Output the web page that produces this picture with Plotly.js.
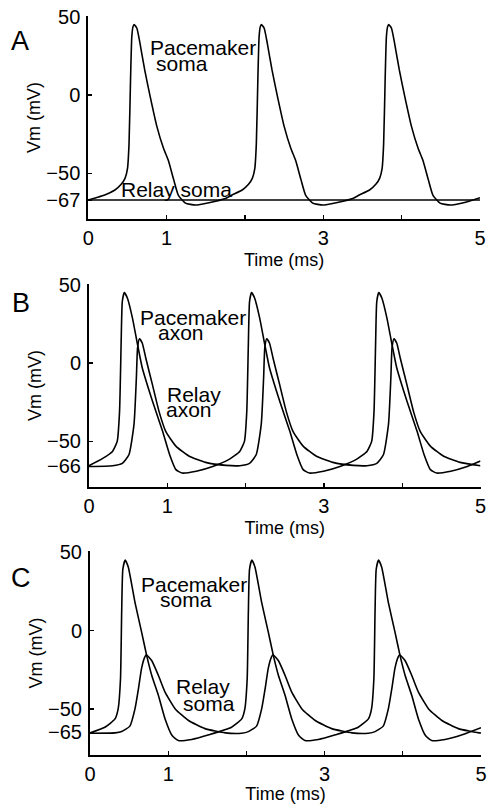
<!DOCTYPE html>
<html>
<head>
<meta charset="utf-8">
<script src="https://cdn.plot.ly/plotly-3.0.1.min.js"></script>
<style>
  html, body { margin: 0; padding: 0; background: #fff; }
  #chart { width: 487px; height: 804px; }
</style>
</head>
<body>
<div id="chart"></div>
<script>
// ---------------- data ----------------
// Panel A: pacemaker soma and relay soma
const tPaceA = [0, 0.1, 0.21, 0.34, 0.42, 0.47, 0.50, 0.52, 0.54, 0.555, 0.57, 0.585, 0.62, 0.66, 0.72, 0.79, 0.875, 0.96, 1.02, 1.09, 1.15, 1.24, 1.37, 1.54, 1.75,
  1.835, 1.965, 2.045, 2.095, 2.125, 2.145, 2.165, 2.18, 2.195, 2.21, 2.245, 2.285, 2.345, 2.415, 2.5, 2.585, 2.645, 2.715, 2.775, 2.865, 2.995, 3.165, 3.375,
  3.46, 3.59, 3.67, 3.72, 3.75, 3.77, 3.79, 3.805, 3.82, 3.835, 3.87, 3.91, 3.97, 4.04, 4.125, 4.21, 4.27, 4.34, 4.40, 4.49, 4.62, 4.79, 5.0];
const vPaceA = [-67, -65.5, -63.8, -60.6, -57, -53, -47, -31, 11.7, 37, 43.5, 45, 42.6, 33, 16, -1, -20, -34, -41.5, -54, -64, -69, -70.2, -68.7, -66,
  -63.8, -60.6, -57, -53, -47, -31, 11.7, 37, 43.5, 45, 42.6, 33, 16, -1, -20, -34, -41.5, -54, -64, -69, -70.2, -68.7, -66,
  -63.8, -60.6, -57, -53, -47, -31, 11.7, 37, 43.5, 45, 42.6, 33, 16, -1, -20, -34, -41.5, -54, -64, -69, -70.2, -68.7, -65.5];
const tRelayA = [0, 5];
const vRelayA = [-67, -67];

// Panel B: pacemaker axon and relay axon
const tPaceB = [0, 0.17, 0.30, 0.36, 0.39, 0.41, 0.425, 0.45, 0.49, 0.555, 0.62, 0.68, 0.77, 0.855, 0.94, 1.03, 1.11, 1.19, 1.37, 1.58, 1.795,
  1.925, 1.985, 2.015, 2.035, 2.05, 2.075, 2.115, 2.18, 2.245, 2.305, 2.395, 2.48, 2.565, 2.655, 2.735, 2.815, 2.995, 3.205, 3.42,
  3.55, 3.61, 3.64, 3.66, 3.675, 3.70, 3.74, 3.805, 3.87, 3.93, 4.02, 4.105, 4.19, 4.28, 4.36, 4.44, 4.62, 4.83, 5.0];
const vPaceB = [-65.5, -61, -56.4, -50, -31, 11.7, 39, 45, 41.5, 28.7, 11.7, -3, -18, -31, -43.6, -58.5, -68, -70.2, -69, -66, -61.3,
  -56.4, -50, -31, 11.7, 39, 45, 41.5, 28.7, 11.7, -3, -18, -31, -43.6, -58.5, -68, -70.2, -69, -66, -61.3,
  -56.4, -50, -31, 11.7, 39, 45, 41.5, 28.7, 11.7, -3, -18, -31, -43.6, -58.5, -68, -70.2, -69, -66, -62.5];
const tRelayB = [0, 0.3, 0.425, 0.51, 0.575, 0.605, 0.62, 0.645, 0.68, 0.725, 0.81, 0.895, 0.98, 1.11, 1.28, 1.49, 1.75, 1.925,
  2.05, 2.135, 2.20, 2.23, 2.245, 2.27, 2.305, 2.35, 2.435, 2.52, 2.605, 2.735, 2.905, 3.115, 3.375, 3.55,
  3.675, 3.76, 3.825, 3.855, 3.87, 3.895, 3.93, 3.975, 4.06, 4.145, 4.23, 4.36, 4.53, 4.74, 5.0];
const vRelayB = [-66, -65.5, -64, -58.5, -39, -9.6, 9.6, 15.5, 12.8, 3.2, -13.8, -31, -43.6, -53, -59.5, -63.4, -65.3, -65.5,
  -64, -58.5, -39, -9.6, 9.6, 15.5, 12.8, 3.2, -13.8, -31, -43.6, -53, -59.5, -63.4, -65.3, -65.5,
  -64, -58.5, -39, -9.6, 9.6, 15.5, 12.8, 3.2, -13.8, -31, -43.6, -53, -59.5, -63.4, -65.5];

// Panel C: pacemaker soma and relay soma
const tPaceC = [0, 0.19, 0.32, 0.36, 0.39, 0.405, 0.42, 0.45, 0.49, 0.575, 0.66, 0.725, 0.79, 0.875, 0.96, 1.05, 1.13, 1.30, 1.52,
  1.81, 1.94, 1.98, 2.01, 2.025, 2.04, 2.07, 2.11, 2.195, 2.28, 2.345, 2.41, 2.495, 2.58, 2.67, 2.75, 2.92, 3.14,
  3.43, 3.56, 3.60, 3.63, 3.645, 3.66, 3.69, 3.73, 3.815, 3.90, 3.965, 4.03, 4.115, 4.20, 4.29, 4.37, 4.54, 4.76, 5.0];
const vPaceC = [-65.3, -61.7, -56.4, -50, -30.8, 11.7, 39, 45, 40.4, 18, -1, -16, -28.7, -41.5, -56.4, -67, -70.2, -69.5, -66.5,
  -61.7, -56.4, -50, -30.8, 11.7, 39, 45, 40.4, 18, -1, -16, -28.7, -41.5, -56.4, -67, -70.2, -69.5, -66.5,
  -61.7, -56.4, -50, -30.8, 11.7, 39, 45, 40.4, 18, -1, -16, -28.7, -41.5, -56.4, -67, -70.2, -69.5, -66.5, -62];
const tRelayC = [0, 0.32, 0.405, 0.51, 0.575, 0.62, 0.66, 0.70, 0.72, 0.79, 0.875, 0.96, 1.09, 1.26, 1.47, 1.73, 1.94,
  2.025, 2.13, 2.195, 2.24, 2.28, 2.32, 2.34, 2.41, 2.495, 2.58, 2.71, 2.88, 3.09, 3.35, 3.56,
  3.645, 3.75, 3.815, 3.86, 3.90, 3.94, 3.96, 4.03, 4.115, 4.20, 4.33, 4.50, 4.71, 4.97, 5.0];
const vRelayC = [-65.5, -65.3, -64.5, -61, -50, -37, -24, -17, -15.5, -19.3, -28.7, -39.3, -50, -57.4, -62.6, -65.3, -65.5,
  -64.5, -61, -50, -37, -24, -17, -15.5, -19.3, -28.7, -39.3, -50, -57.4, -62.6, -65.3, -65.5,
  -64.5, -61, -50, -37, -24, -17, -15.5, -19.3, -28.7, -39.3, -50, -57.4, -62.6, -65.3, -65.4];

// ticks
const xTickVals = [0, 1, 2, 3, 4, 5];
const xTickText = ['0', '1', '', '3', '', '5'];
const yTickValsA = [-67, -50, 0, 50];
const yTickValsB = [-66, -50, 0, 50];
const yTickValsC = [-65, -50, 0, 50];

// ---------------- styling ----------------
const FONT = 'Liberation Sans, Arial, Helvetica, sans-serif';
const W = 487, H = 804;
const px = v => v / W;
const py = v => 1 - v / H;

function line(x, y, xa, ya) {
  return { x: x, y: y, xaxis: xa, yaxis: ya, type: 'scatter', mode: 'lines',
    line: { color: '#000', width: 1.6, shape: 'spline', smoothing: 0.5 }, hoverinfo: 'skip' };
}

function xAxis(domain, anchor) {
  return {
    domain: domain, anchor: anchor, range: [0, 5],
    tickmode: 'array', tickvals: xTickVals, ticktext: xTickText,
    ticks: 'inside', ticklen: 4, tickwidth: 1.3, tickcolor: '#000',
    showline: true, linewidth: 2, linecolor: '#000',
    showgrid: false, zeroline: false,
    tickfont: { family: FONT, size: 20, color: '#000' },
    ticklabelstandoff: 0,
    title: { text: 'Time (ms)', font: { family: FONT, size: 18, color: '#000' }, standoff: 5 }
  };
}
function yAxis(domain, anchor, tv) {
  return {
    domain: domain, anchor: anchor, range: [-79.3, 50.5],
    tickmode: 'array', tickvals: tv,
    ticks: 'inside', ticklen: 4, tickwidth: 1.3, tickcolor: '#000',
    showline: true, linewidth: 2, linecolor: '#000',
    showgrid: false, zeroline: false,
    tickfont: { family: FONT, size: 20, color: '#000' },
    ticklabelstandoff: 2,
    title: { text: 'Vm (mV)', font: { family: FONT, size: 18, color: '#000' }, standoff: 1 }
  };
}

function label(text, x, y, size) {
  return { text: text, x: px(x), y: py(y), xref: 'paper', yref: 'paper',
    xanchor: 'center', yanchor: 'middle', showarrow: false,
    font: { family: FONT, size: size || 21, color: '#000' } };
}

const data = [
  line(tPaceA, vPaceA, 'x', 'y'),
  line(tRelayA, vRelayA, 'x', 'y'),
  line(tPaceB, vPaceB, 'x2', 'y2'),
  line(tRelayB, vRelayB, 'x2', 'y2'),
  line(tPaceC, vPaceC, 'x3', 'y3'),
  line(tRelayC, vRelayC, 'x3', 'y3')
];

const layout = {
  width: W, height: H,
  margin: { l: 0, r: 0, t: 0, b: 0 },
  paper_bgcolor: '#fff', plot_bgcolor: '#fff',
  showlegend: false,
  xaxis:  xAxis([px(88.3), px(480)], 'y'),
  yaxis:  yAxis([py(219.3), py(15.9)], 'x', yTickValsA),
  xaxis2: xAxis([px(89), px(480.5)], 'y2'),
  yaxis2: yAxis([py(487.3), py(283.9)], 'x2', yTickValsB),
  xaxis3: xAxis([px(90), px(481)], 'y3'),
  yaxis3: yAxis([py(754.8), py(551.4)], 'x3', yTickValsC),
  annotations: [
    label('A', 20, 41, 27),
    label('Pacemaker', 203, 47.5),
    label('soma', 182, 63.5),
    label('Relay soma', 176.7, 189.7),
    label('B', 21, 303, 27),
    label('Pacemaker', 192.5, 317.5),
    label('axon', 181, 332),
    label('Relay', 194, 394),
    label('axon', 189, 410),
    label('C', 21, 578, 27),
    label('Pacemaker', 193.5, 584),
    label('soma', 186, 599),
    label('Relay', 202.5, 686),
    label('soma', 209, 703.5)
  ]
};

Plotly.newPlot('chart', data, layout, { staticPlot: true, displayModeBar: false });
</script>
</body>
</html>
